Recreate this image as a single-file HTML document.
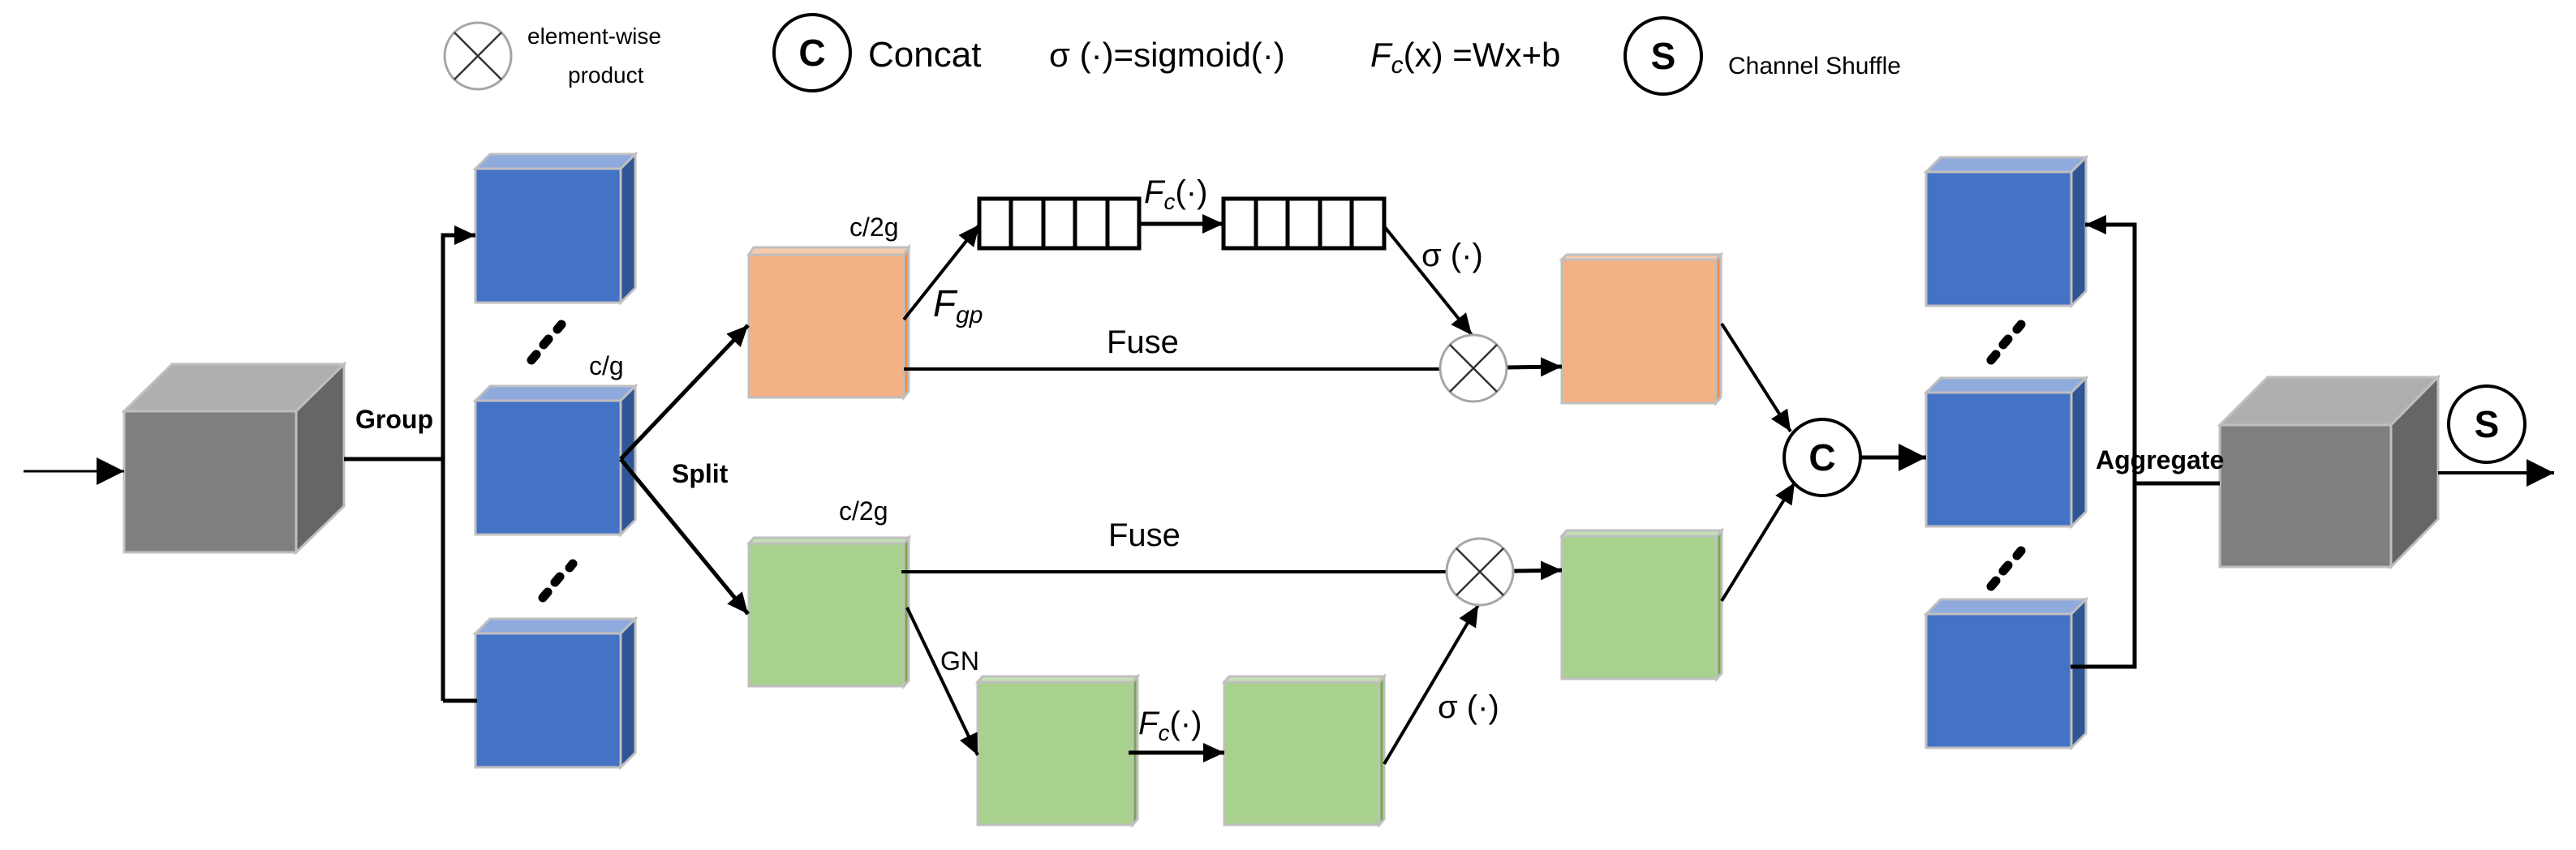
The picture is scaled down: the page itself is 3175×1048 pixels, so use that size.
<!DOCTYPE html>
<html><head><meta charset="utf-8"><style>
html,body{margin:0;padding:0;background:#fff}
svg{display:block}
text{font-family:"Liberation Sans Narrow","Liberation Sans",sans-serif;fill:#000}
</style></head><body>
<svg width="3175" height="1048" viewBox="0 0 3175 1048" xmlns="http://www.w3.org/2000/svg">
<defs>
<marker id="a" markerUnits="userSpaceOnUse" markerWidth="40" markerHeight="40" refX="34" refY="17" orient="auto"><path d="M0,0 L34,17 L0,34 Z" fill="#000"/></marker>
<marker id="s" markerUnits="userSpaceOnUse" markerWidth="30" markerHeight="30" refX="26" refY="12" orient="auto"><path d="M0,0 L26,12 L0,24 Z" fill="#000"/></marker>
</defs>
<g stroke="#BFBFBF" stroke-width="3">
<!-- gray cube 1 -->
<polygon points="153,507 212,449 424,449 365,507" fill="#AFAFAF"/>
<polygon points="365,507 424,449 424,624 365,681" fill="#666666"/>
<rect x="153" y="507" width="212" height="174" fill="#7F7F7F"/>
<!-- gray cube 2 -->
<polygon points="2736,524 2795,465 3005,465 2947,524" fill="#AFAFAF"/>
<polygon points="2947,524 3005,465 3005,640 2947,699" fill="#666666"/>
<rect x="2736" y="524" width="211" height="175" fill="#7F7F7F"/>
</g>
<g stroke="#BFBFBF" stroke-width="3">
<!-- left blue boxes -->
<g id="b1"><polygon points="586,208 604,190 783,190 765,208" fill="#8FAADC"/><polygon points="765,208 783,190 783,355 765,373" fill="#2F5597"/><rect x="586" y="208" width="179" height="165" fill="#4472C4"/></g>
<use href="#b1" y="286"/>
<use href="#b1" y="573"/>
<use href="#b1" x="1788" y="4"/>
<use href="#b1" x="1788" y="276"/>
<use href="#b1" x="1788" y="549"/>
<!-- orange -->
<polygon points="923,314 929,305 1120,305 1114,314" fill="#F8CBAD"/>
<polygon points="1114,314 1120,305 1120,482 1114,490" fill="#ED8B4A"/>
<rect x="923" y="314" width="191" height="176" fill="#F4B183"/>
<polygon points="1925,320 1931,314 2121,314 2115,320" fill="#F8CBAD"/>
<polygon points="2115,320 2121,314 2121,490 2115,497" fill="#ED8B4A"/>
<rect x="1925" y="320" width="190" height="177" fill="#F4B183"/>
<!-- green -->
<g id="g1"><polygon points="923,670 929,663 1120,663 1114,670" fill="#C5E0B4"/><polygon points="1114,670 1120,663 1120,839 1114,846" fill="#70AD47"/><rect x="923" y="670" width="191" height="176" fill="#A9D18E"/></g>
<use href="#g1" x="1002" y="-9"/>
<use href="#g1" x="282" y="171"/>
<use href="#g1" x="586" y="171"/>
</g>
<!-- ellipsis dots -->
<g stroke="#000" stroke-width="11" stroke-linecap="round">
<line x1="655" y1="444" x2="661" y2="437"/><line x1="670" y1="425" x2="676" y2="418"/><line x1="687" y1="406" x2="692" y2="400"/>
<line x1="669" y1="737" x2="675" y2="730"/><line x1="684" y1="718" x2="690" y2="711"/><line x1="702" y1="700" x2="706" y2="695"/>
<line x1="2454" y1="444" x2="2460" y2="437"/><line x1="2469" y1="425" x2="2475" y2="418"/><line x1="2486" y1="406" x2="2491" y2="400"/>
<line x1="2454" y1="723" x2="2460" y2="716"/><line x1="2469" y1="704" x2="2475" y2="697"/><line x1="2486" y1="685" x2="2491" y2="679"/>
</g>
<!-- connectors -->
<g stroke="#000" stroke-width="5" fill="none">
<line x1="29" y1="581" x2="153" y2="581" stroke-width="3" marker-end="url(#a)"/>
<polyline points="424,566 546,566"/>
<polyline points="546,864 546,290 586,290" marker-end="url(#s)"/>
<polyline points="546,864 588,864"/>
<line x1="765" y1="566" x2="922" y2="401" marker-end="url(#s)"/>
<line x1="765" y1="566" x2="922" y2="757" marker-end="url(#s)"/>
<line x1="1114" y1="394" x2="1207" y2="277" stroke-width="4" marker-end="url(#s)"/>
<line x1="1404" y1="276" x2="1508" y2="276" marker-end="url(#s)"/>
<line x1="1706" y1="279" x2="1814" y2="413" stroke-width="4" marker-end="url(#s)"/>
<line x1="1114" y1="455" x2="1775" y2="455" stroke-width="4"/>
<line x1="1857" y1="453" x2="1925" y2="452" marker-end="url(#s)"/>
<line x1="1111" y1="705" x2="1783" y2="705" stroke-width="4"/>
<line x1="1865" y1="704" x2="1925" y2="703" marker-end="url(#s)"/>
<line x1="1118" y1="749" x2="1205" y2="931" stroke-width="4" marker-end="url(#s)"/>
<line x1="1391" y1="928" x2="1509" y2="928" marker-end="url(#s)"/>
<line x1="1706" y1="942" x2="1822" y2="746" stroke-width="4" marker-end="url(#s)"/>
<line x1="2122" y1="399" x2="2207" y2="532" stroke-width="4" marker-end="url(#s)"/>
<line x1="2122" y1="741" x2="2212" y2="595" stroke-width="4" marker-end="url(#s)"/>
<line x1="2294" y1="564" x2="2374" y2="564" marker-end="url(#a)"/>
<polyline points="2552,822 2631,822 2631,277 2570,277" marker-end="url(#s)"/>
<line x1="2631" y1="596" x2="2736" y2="596"/>
<line x1="3005" y1="583" x2="3148" y2="583" stroke-width="4" marker-end="url(#a)"/>
</g>
<!-- bars -->
<g stroke="#000" stroke-width="5" fill="#fff">
<rect x="1207" y="245" width="197" height="61"/>
<line x1="1246" y1="245" x2="1246" y2="306"/><line x1="1286" y1="245" x2="1286" y2="306"/><line x1="1325" y1="245" x2="1325" y2="306"/><line x1="1365" y1="245" x2="1365" y2="306"/>
<rect x="1508" y="245" width="198" height="61"/>
<line x1="1548" y1="245" x2="1548" y2="306"/><line x1="1587" y1="245" x2="1587" y2="306"/><line x1="1627" y1="245" x2="1627" y2="306"/><line x1="1666" y1="245" x2="1666" y2="306"/>
</g>
<!-- product circles -->
<g stroke="#A6A6A6" stroke-width="3" fill="#fff">
<circle cx="1816" cy="454" r="41"/>
<circle cx="1824" cy="705" r="41"/>
<circle cx="589" cy="69" r="41"/>
</g>
<g stroke="#333" stroke-width="2.5">
<line x1="1787" y1="425" x2="1845" y2="483"/><line x1="1845" y1="425" x2="1787" y2="483"/>
<line x1="1795" y1="676" x2="1853" y2="734"/><line x1="1853" y1="676" x2="1795" y2="734"/>
<line x1="560" y1="40" x2="618" y2="98"/><line x1="618" y1="40" x2="560" y2="98"/>
</g>
<g stroke="#000" stroke-width="4" fill="#fff">
<circle cx="2246" cy="564" r="47"/>
<circle cx="3065" cy="523" r="47"/>
<circle cx="1001" cy="65" r="47"/>
<circle cx="2050" cy="69" r="47"/>
</g>
<g font-weight="bold" text-anchor="middle" font-size="46">
<text x="2246" y="580">C</text><text x="3065" y="539">S</text><text x="1001" y="81">C</text><text x="2050" y="85">S</text>
</g>
<!-- labels -->
<g font-size="32">
<text x="438" y="528" font-weight="bold">Group</text>
<text x="828" y="595" font-weight="bold">Split</text>
<text x="2583" y="578" font-weight="bold">Aggregate</text>
<text x="726" y="462">c/g</text>
<text x="1047" y="291">c/2g</text>
<text x="1034" y="641">c/2g</text>
<text x="1159" y="826">GN</text>
</g>
<g font-size="40">
<text x="1364" y="435">Fuse</text>
<text x="1366" y="673">Fuse</text>
<text x="1752" y="328">σ (·)</text>
<text x="1772" y="885">σ (·)</text>
<text x="1410" y="250"><tspan font-style="italic">F</tspan><tspan font-style="italic" font-size="28" dy="8">c</tspan><tspan dy="-8">(·)</tspan></text>
<text x="1403" y="905"><tspan font-style="italic">F</tspan><tspan font-style="italic" font-size="28" dy="8">c</tspan><tspan dy="-8">(·)</tspan></text>
<text x="1150" y="390"><tspan font-style="italic" font-size="46">F</tspan><tspan font-style="italic" font-size="30" dy="8">gp</tspan></text>
</g>
<!-- legend -->
<text x="650" y="54" font-size="28">element-wise</text>
<text x="700" y="102" font-size="28">product</text>
<text x="1070" y="82" font-size="44">Concat</text>
<text x="1293" y="82" font-size="42">σ (·)=sigmoid(·)</text>
<text x="1689" y="82" font-size="42"><tspan font-style="italic">F</tspan><tspan font-style="italic" font-size="30" dy="8">c</tspan><tspan dy="-8">(x) =Wx+b</tspan></text>
<text x="2130" y="91" font-size="30">Channel Shuffle</text>
</svg>
</body></html>
